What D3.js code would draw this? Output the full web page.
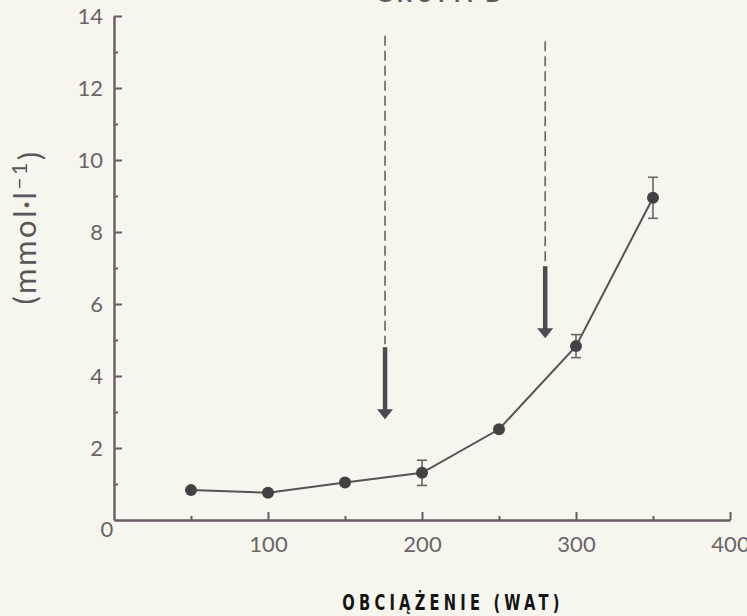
<!DOCTYPE html>
<html>
<head>
<meta charset="utf-8">
<script src="https://cdn.jsdelivr.net/npm/d3@7"></script>
<style>
  html, body { margin: 0; padding: 0; background: #f7f6ee; }
  svg { display: block; }
  .tick text { font-family: Lato, "DejaVu Sans", sans-serif; font-weight: 400; fill: #6a6466; }
</style>
</head>
<body>
<svg id="chart" width="747" height="616"></svg>
<script>
// Blood lactate vs. exercise load
const loads   = [50, 100, 150, 200, 250, 300, 350];
const lactate = [0.83, 0.76, 1.04, 1.31, 2.52, 4.83, 8.95];
const errBar  = [null, null, null, 0.35, null, 0.32, 0.57];

// Threshold markers: load, top of dashed guide, start of solid shaft, arrow tip
const markerLoads  = [176, 280];
const markerDashTo = [13.45, 13.3];
const markerSolid  = [4.8, 7.05];
const markerTip    = [2.8, 5.05];

const xMajor = [100, 200, 300, 400];
const xMinor = [50, 150, 250, 350];
const yMajor = [2, 4, 6, 8, 10, 12, 14];
const yMinor = [1, 3, 5, 7, 9, 11, 13];

const title = "GRUPA B";
const yTitle = "(mmol·l";
const yTitleSup = "−1";
const xTitle = "OBCIĄŻENIE (WAT)";

const svg = d3.select("#chart");
const axisColor = "#6b5c62";

const x = d3.scaleLinear().domain([0, 400]).range([114, 730]);
const y = d3.scaleLinear().domain([0, 14]).range([520, 16]);

// Heading running off the top edge
svg.append("text")
  .attr("x", 440).attr("y", 2)
  .attr("text-anchor", "middle")
  .style("font-family", "Lato, sans-serif")
  .style("font-weight", 700)
  .style("font-size", "24px")
  .style("letter-spacing", "4px")
  .style("fill", "#5f5a5c")
  .text(title);

// Axes
function styleAxis(g) {
  g.select(".domain").attr("stroke", axisColor).attr("stroke-width", 2.4);
  g.selectAll(".tick line").attr("stroke", axisColor).attr("stroke-width", 2);
}

svg.append("g")
  .attr("transform", `translate(0,${y(0)})`)
  .call(d3.axisBottom(x).tickValues(xMinor).tickSizeInner(-4).tickSizeOuter(0).tickFormat(""))
  .call(g => g.select(".domain").remove())
  .call(styleAxis);

svg.append("g")
  .attr("transform", `translate(0,${y(0)})`)
  .call(d3.axisBottom(x).tickValues(xMajor).tickSizeInner(-8).tickSizeOuter(0).tickPadding(16))
  .call(styleAxis)
  .call(g => g.selectAll(".tick text").style("font-size", "22px").attr("dy", "0.72em"));

svg.append("g")
  .attr("transform", `translate(${x(0)},0)`)
  .call(d3.axisLeft(y).tickValues(yMinor).tickSizeInner(-4).tickSizeOuter(0).tickFormat(""))
  .call(g => g.select(".domain").remove())
  .call(styleAxis);

svg.append("g")
  .attr("transform", `translate(${x(0)},0)`)
  .call(d3.axisLeft(y).tickValues(yMajor).tickSizeInner(-8).tickSizeOuter(0).tickPadding(11))
  .call(styleAxis)
  .call(g => g.selectAll(".tick text").style("font-size", "22px"));

// Shared origin label
svg.append("text")
  .attr("x", x(0) - 7).attr("y", y(0) + 17)
  .attr("text-anchor", "middle")
  .style("font-family", "Lato, 'DejaVu Sans', sans-serif")
  .style("font-size", "22px")
  .style("fill", "#6a6466")
  .text("0");

// Axis titles
const yt = svg.append("text")
  .attr("transform", `translate(36,${y(0) - 293}) rotate(-90)`)
  .attr("text-anchor", "middle")
  .style("font-family", "Lato, 'DejaVu Sans', sans-serif")
  .style("font-size", "31px")
  .style("letter-spacing", "2.5px")
  .style("fill", "#5a5658");
yt.append("tspan").text(yTitle);
yt.append("tspan").attr("dy", "-0.45em").style("font-size", "21px").text(yTitleSup);
yt.append("tspan").attr("dy", "0.45em").text(")");

// Condensed bold caption under the x axis
svg.append("text")
  .attr("transform", "translate(453,610) scale(0.7,1)")
  .attr("text-anchor", "middle")
  .style("font-family", "'DejaVu Sans', sans-serif")
  .style("font-weight", 700)
  .style("font-size", "21px")
  .style("letter-spacing", "6px")
  .style("fill", "#141414")
  .text(xTitle);

// Threshold markers: dashed guide, heavy shaft, arrowhead
markerLoads.forEach((ld, i) => {
  const mx = x(ld);
  svg.append("line")
    .attr("x1", mx).attr("x2", mx)
    .attr("y1", y(markerDashTo[i])).attr("y2", y(markerSolid[i]) - 3)
    .attr("stroke", "#76676d").attr("stroke-width", 1.7)
    .attr("stroke-dasharray", "10,5");
  const tipY = y(markerTip[i]);
  svg.append("line")
    .attr("x1", mx).attr("x2", mx)
    .attr("y1", y(markerSolid[i])).attr("y2", tipY - 8)
    .attr("stroke", "#4f4a4c").attr("stroke-width", 4.5);
  svg.append("path")
    .attr("d", `M${mx - 8},${tipY - 10} L${mx + 8},${tipY - 10} L${mx},${tipY} Z`)
    .attr("fill", "#4f4a4c");
});

// Error bars
const errData = loads.map((l, i) => ({ l, v: lactate[i], e: errBar[i] })).filter(d => d.e != null);
errData.forEach(d => {
  const cx = x(d.l);
  svg.append("line").attr("x1", cx).attr("x2", cx)
    .attr("y1", y(d.v + d.e)).attr("y2", y(d.v - d.e))
    .attr("stroke", "#6a6466").attr("stroke-width", 1.6);
  [d.v + d.e, d.v - d.e].forEach(v => {
    svg.append("line").attr("x1", cx - 5).attr("x2", cx + 5)
      .attr("y1", y(v)).attr("y2", y(v))
      .attr("stroke", "#6a6466").attr("stroke-width", 1.6);
  });
});

// Curve and points
svg.append("path")
  .datum(loads.map((l, i) => [l, lactate[i]]))
  .attr("fill", "none")
  .attr("stroke", "#575254")
  .attr("stroke-width", 2)
  .attr("d", d3.line().x(d => x(d[0])).y(d => y(d[1])));

svg.selectAll("circle.pt")
  .data(loads.map((l, i) => [l, lactate[i]]))
  .join("circle")
  .attr("class", "pt")
  .attr("cx", d => x(d[0]))
  .attr("cy", d => y(d[1]))
  .attr("r", 6)
  .attr("fill", "#454143");
</script>
</body>
</html>
